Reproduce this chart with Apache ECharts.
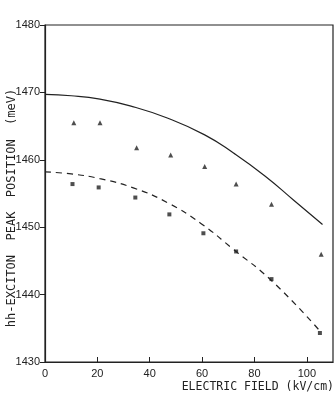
<!DOCTYPE html>
<html>
<head>
<meta charset="utf-8">
<script src="https://cdn.jsdelivr.net/npm/echarts@6/dist/echarts.min.js"></script>
<style>
  html, body { margin: 0; padding: 0; background: #fff; }
  #myChart { width: 336px; height: 394px; }
</style>
</head>
<body>
<div id="myChart"></div>
<script>
// measured points (kV/cm, meV)
var triX = [11, 21, 35, 48, 61, 73, 86.5, 105.5];
var triY = [1465.5, 1465.5, 1461.8, 1460.7, 1459.0, 1456.4, 1453.4, 1446.0];
var sqX = [10.5, 20.5, 34.5, 47.5, 60.5, 73, 86.5, 105];
var sqY = [1456.4, 1455.9, 1454.4, 1451.9, 1449.1, 1446.4, 1442.3, 1434.3];

// theory curves
var solidX = [0, 10, 21, 32.5, 46.7, 61, 72, 84, 95, 106];
var solidY = [1469.7, 1469.5, 1469.0, 1468.0, 1466.2, 1463.7, 1461.0, 1457.6, 1454.0, 1450.4];
var dashX = [0, 10, 21, 34, 47, 59.4, 72, 87, 105];
var dashY = [1458.2, 1457.9, 1457.2, 1455.8, 1453.6, 1450.6, 1446.7, 1441.9, 1434.6];

var xTicks = [0, 20, 40, 60, 80, 100];

function pairs(xs, ys) {
  return xs.map(function (x, i) { return [x, ys[i]]; });
}

var chartDom = document.getElementById("myChart");
var myChart = echarts.init(chartDom);
var ink = "#222";
var option;

option = {
  animation: false,
  backgroundColor: "#fff",
  grid: {
    left: 45,
    right: 3,
    top: 25,
    bottom: 32,
    containLabel: false,
    outerBoundsMode: "none",
    show: true,
    borderColor: ink,
    borderWidth: 1.2,
  },
  xAxis: {
    type: "value",
    min: 0,
    max: 110,
    interval: 20,
    axisLine: { lineStyle: { color: ink, width: 1.2 } },
    axisTick: { inside: true, length: 5, lineStyle: { color: ink } },
    splitLine: { show: false },
    axisLabel: {
      showMaxLabel: false,
      color: ink,
      fontFamily: "Liberation Sans",
      fontSize: 11,
      margin: 6,
      formatter: function (v) {
        return xTicks.indexOf(v) >= 0 ? String(v) : "";
      },
    },
  },
  yAxis: {
    type: "value",
    min: 1430,
    max: 1480,
    interval: 10,
    axisLine: { lineStyle: { color: ink, width: 1.2 } },
    axisTick: { inside: false, length: 5, lineStyle: { color: ink } },
    splitLine: { show: false },
    axisLabel: {
      color: ink,
      fontFamily: "Liberation Sans",
      fontSize: 11,
      margin: 5,
      formatter: function (v) { return String(v); },
    },
  },
  graphic: [
    {
      type: "text",
      x: 12,
      y: 208,
      rotation: Math.PI / 2,
      style: {
        text: "hh-EXCITON  PEAK  POSITION  (meV)",
        fill: ink,
        font: "12px 'DejaVu Sans Mono'",
        align: "center",
        verticalAlign: "middle",
      },
    },
    {
      type: "text",
      right: 2,
      top: 381,
      style: {
        text: "ELECTRIC FIELD (kV/cm)",
        fill: ink,
        font: "11.5px 'DejaVu Sans Mono'",
      },
    },
  ],
  series: [
    {
      type: "line",
      data: pairs(solidX, solidY),
      smooth: true,
      symbol: "none",
      lineStyle: { color: ink, width: 1.2 },
    },
    {
      type: "line",
      data: pairs(dashX, dashY),
      smooth: true,
      symbol: "none",
      lineStyle: { color: ink, width: 1.2, type: [6, 5] },
    },
    {
      type: "scatter",
      data: pairs(triX, triY),
      symbol: "triangle",
      symbolSize: 5,
      itemStyle: { color: ink },
    },
    {
      type: "scatter",
      data: pairs(sqX, sqY),
      symbol: "rect",
      symbolSize: 4,
      itemStyle: { color: ink },
    },
  ],
};

option && myChart.setOption(option);
</script>
</body>
</html>
